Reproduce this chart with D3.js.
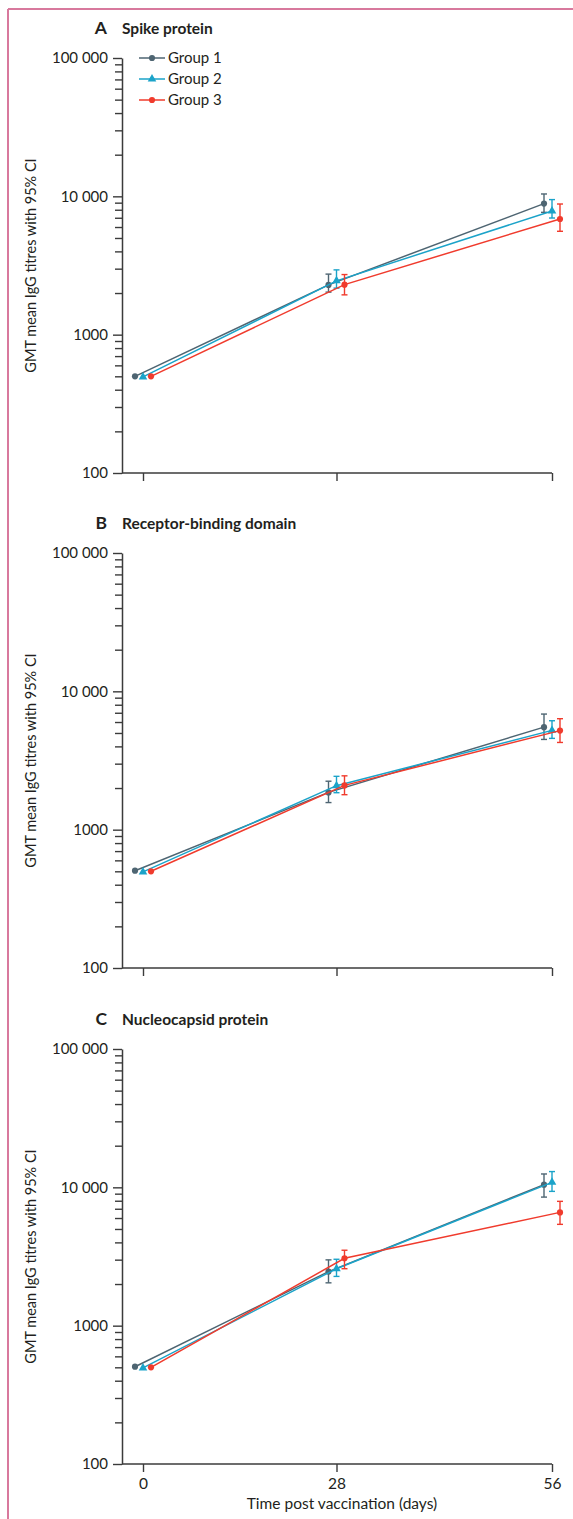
<!DOCTYPE html>
<html>
<head>
<meta charset="utf-8">
<script src="https://cdn.jsdelivr.net/npm/d3@7"></script>
<style>
    body { margin: 0; background: #fff; }
    svg { display: block; font-family: Lato, "Open Sans", sans-serif; }
</style>
</head>
<body>
<svg id="chart" width="573" height="1519"></svg>
<script>
// values (GMT with 95% CI), one row per group, one column per day
const groups = ["Group 1", "Group 2", "Group 3"];
const days = [0, 28, 56];
const panelLetters = ["A", "B", "C"];
const panelTitles = ["Spike protein", "Receptor-binding domain", "Nucleocapsid protein"];

const spikeGmt = [[500, 2290, 8860], [495, 2450, 7830], [500, 2300, 6860]];
const spikeLow = [[null, 2030, 7660], [null, 2170, 6970], [null, 1940, 5590]];
const spikeHigh = [[null, 2740, 10400], [null, 2940, 9470], [null, 2720, 8800]];

const rbdGmt = [[505, 1860, 5510], [495, 2080, 5220], [500, 2090, 5200]];
const rbdLow = [[null, 1570, 4490], [null, 1850, 4570], [null, 1790, 4270]];
const rbdHigh = [[null, 2240, 6850], [null, 2430, 6130], [null, 2450, 6340]];

const ncGmt = [[505, 2460, 10460], [495, 2580, 10870], [500, 3070, 6590]];
const ncLow = [[null, 2040, 8500], [null, 2270, 9350], [null, 2580, 5400]];
const ncHigh = [[null, 2990, 12490], [null, 3020, 13000], [null, 3510, 7920]];

const yTickValues = [100, 1000, 10000, 100000];
const yTickLabels = ["100", "1000", "10 000", "100 000"];
const xTicks = [0, 28, 56];
const xTickLabels = ["0", "28", "56"];

const colours = ["#4e6572", "#1ba3c9", "#f03b2d"];
const shapes = [d3.symbolCircle, d3.symbolTriangle, d3.symbolCircle];
const offsets = [-8, 0, 8]; // groups are dodged sideways

const panelData = [
    {gmt: spikeGmt, low: spikeLow, high: spikeHigh},
    {gmt: rbdGmt, low: rbdLow, high: rbdHigh},
    {gmt: ncGmt, low: ncLow, high: ncHigh}
];

const svg = d3.select("#chart");
const axisCol = "#3b3b3b";
const textCol = "#231f20";

// pink page frame
svg.append("line").attr("x1", 8).attr("x2", 573).attr("y1", 9).attr("y2", 9)
    .attr("stroke", "#d8799d").attr("stroke-width", 2);
svg.append("line").attr("x1", 8).attr("x2", 8).attr("y1", 9).attr("y2", 1519)
    .attr("stroke", "#d8799d").attr("stroke-width", 2);

const left = 122, right = 552, plotH = 415;
const panelTops = [58, 553, 1049];

// x positions of the three visits are not evenly spaced in the original
const x = d3.scaleLinear().domain(days).range([143, 336.5, 552]);

// all ticks 100..100000 with minors
let allTicks = [];
for (let p = 2; p <= 4; p++) {
    for (let m = 1; m <= 9; m++) allTicks.push(m * Math.pow(10, p));
}
allTicks.push(100000);

panelData.forEach(function (pd, pi) {
    const top = panelTops[pi];
    const y = d3.scaleLog().domain([100, 100000]).range([top + plotH, top]);
    const g = svg.append("g");

    // title
    g.append("text").attr("x", 107).attr("y", top - 24).attr("text-anchor", "end")
        .attr("font-size", 17.5).attr("font-weight", "bold").attr("fill", textCol)
        .text(panelLetters[pi]);
    g.append("text").attr("x", 122).attr("y", top - 24)
        .attr("font-size", 15.5).attr("font-weight", "bold").attr("fill", textCol)
        .text(panelTitles[pi]);

    // y axis
    const yAxis = d3.axisLeft(y).tickValues(allTicks).tickSizeOuter(0)
        .tickFormat(function (d) {
            const i = yTickValues.indexOf(d);
            return i >= 0 ? yTickLabels[i] : "";
        });
    const ya = g.append("g").attr("transform", `translate(${left},0)`).call(yAxis);
    ya.select(".domain").attr("stroke", axisCol).attr("stroke-width", 1.5);
    ya.selectAll(".tick line").attr("stroke", axisCol).attr("stroke-width", 1.4)
        .attr("x2", function (d) { return yTickValues.indexOf(d) >= 0 ? -9 : -7; });
    ya.selectAll(".tick text").attr("x", -14).attr("font-size", 15)
        .attr("font-family", "Lato, 'Open Sans', sans-serif").attr("fill", textCol);

    // x axis
    const base = top + plotH;
    g.append("line").attr("x1", left).attr("x2", right).attr("y1", base).attr("y2", base)
        .attr("stroke", axisCol).attr("stroke-width", 1.5);
    const xAxis = d3.axisBottom(x).tickValues(xTicks).tickSize(8).tickSizeOuter(0)
        .tickFormat(function (d, i) { return pi === 2 ? xTickLabels[i] : ""; });
    const xa = g.append("g").attr("transform", `translate(0,${base})`).call(xAxis);
    xa.select(".domain").remove();
    xa.selectAll(".tick line").attr("stroke", axisCol).attr("stroke-width", 1.4);
    xa.selectAll(".tick text").attr("y", 14).attr("font-size", 15.5)
        .attr("font-family", "Lato, 'Open Sans', sans-serif").attr("fill", textCol);

    // y label
    g.append("text")
        .attr("transform", `translate(36,${top + plotH / 2}) rotate(-90)`)
        .attr("text-anchor", "middle").attr("font-size", 14.5).attr("fill", textCol)
        .text("GMT mean IgG titres with 95% CI");

    // series
    groups.forEach(function (name, gi) {
        const pts = days.map(function (d, di) {
            return {x: x(d) + offsets[gi], v: pd.gmt[gi][di], lo: pd.low[gi][di], hi: pd.high[gi][di]};
        });
        const line = d3.line().x(d => d.x).y(d => y(d.v));
        g.append("path").datum(pts).attr("d", line).attr("fill", "none")
            .attr("stroke", colours[gi]).attr("stroke-width", 1.5);

        const eb = g.selectAll(null).data(pts.filter(d => d.lo !== null)).enter().append("g")
            .attr("stroke", colours[gi]).attr("stroke-width", 1.4);
        eb.append("line").attr("x1", d => d.x).attr("x2", d => d.x)
            .attr("y1", d => y(d.lo)).attr("y2", d => y(d.hi));
        eb.append("line").attr("x1", d => d.x - 3).attr("x2", d => d.x + 3)
            .attr("y1", d => y(d.lo)).attr("y2", d => y(d.lo));
        eb.append("line").attr("x1", d => d.x - 3).attr("x2", d => d.x + 3)
            .attr("y1", d => y(d.hi)).attr("y2", d => y(d.hi));

        g.selectAll(null).data(pts).enter().append("path")
            .attr("d", d3.symbol().type(shapes[gi]).size(gi === 1 ? 32 : 30))
            .attr("transform", d => `translate(${d.x},${y(d.v)})`)
            .attr("fill", colours[gi]);
    });

    // legend on first panel only
    if (pi === 0) {
        const lg = g.append("g");
        groups.forEach(function (name, gi) {
            const ly = top + gi * 21;
            lg.append("line").attr("x1", 139).attr("x2", 165).attr("y1", ly).attr("y2", ly)
                .attr("stroke", colours[gi]).attr("stroke-width", 1.5);
            lg.append("path").attr("d", d3.symbol().type(shapes[gi]).size(gi === 1 ? 32 : 30))
                .attr("transform", `translate(152,${ly})`).attr("fill", colours[gi]);
            lg.append("text").attr("x", 168).attr("y", ly).attr("dy", "0.36em")
                .attr("font-size", 15).attr("fill", textCol).text(name);
        });
    }
});

// x axis title under the last panel
svg.append("text").attr("x", 342).attr("y", 1509).attr("text-anchor", "middle")
    .attr("font-size", 15.5).attr("fill", textCol)
    .text("Time post vaccination (days)");
</script>
</body>
</html>
